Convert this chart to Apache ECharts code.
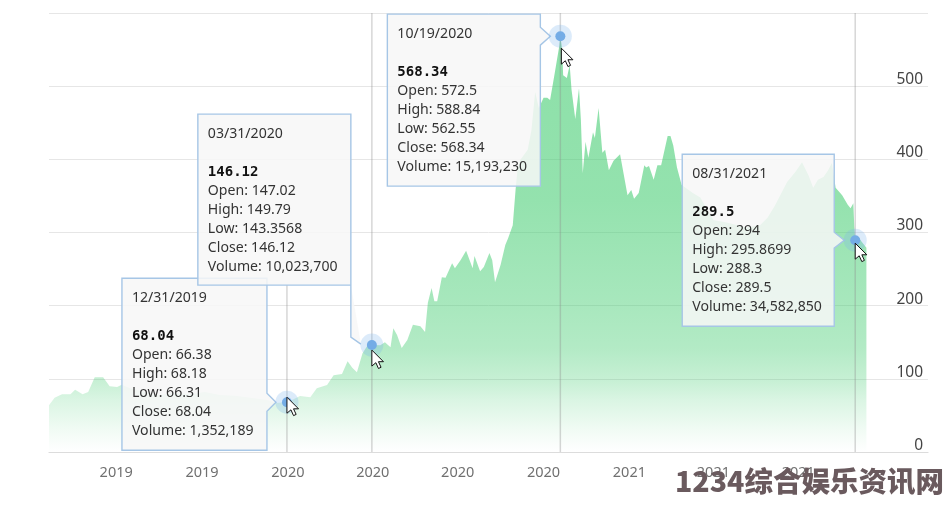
<!DOCTYPE html>
<html>
<head>
<meta charset="utf-8">
<style>html,body{margin:0;padding:0;background:#fff}#c{width:948px;height:507px}</style>
<script src="https://cdn.jsdelivr.net/npm/echarts@6/dist/echarts.min.js"></script>
</head>
<body>
<div id="c"></div>
<script>
// ---- data ----
const startDate = '2019-04-20';
const axisEndDay = 942;
// days since startDate of each outline vertex
const dayOffsets = [0,6,14,23,28,36,42,49,58,65,73,78,87,103,119,135,151,167,183,199,216,234,243,255,262,269,280,287,298,305,314,320,325,330,336,341,346,355,360,366,369,373,378,384,390,398,403,406,410,413,416,421,425,432,435,441,447,454,456,462,466,472,475,478,484,489,492,497,500,502,505,513,517,521,525,530,534,537,542,547,548,550,551,555,558,560,564,568,570,572,575,578,583,585,589,593,596,600,605,612,620,624,627,632,638,640,643,648,652,656,663,666,669,673,678,690,698,712,725,748,762,770,778,791,800,807,814,819,824,830,835,839,843,850,856,859,862,863,864,868,876];
const closes = [64,74,79,79,85,79,82,102,102,90,89,92,87,82,78,81,79,82,78,77,74,71,67,68.04,72,76.5,75,87,91.5,105,106.6,124,115,109,135,145,146.12,146,150,143,169,160,142,153,174,172,164,204,224,206,206,239,238,258,251,262,275,251,268,247,253,272,262,232,256,283,292,310,358,385,399,413,440,492,470,484,484,481,518,556,568.34,549,515,511,529,495,455,497,454,381,424,402,437,429,470,409,413,385,398,407,351,358,346,354,392,389,391,372,392,392,432,432,419,389,365,354,348,317,314,307,310,320,337,369,383,396,378,361,372,376,385,395,361,351,338,333,340,308,289.5,292,279];
const xTickDates = ['2019-07-01','2019-10-01','2020-01-01','2020-04-01','2020-07-01','2020-10-01','2021-01-01','2021-04-01','2021-07-01'];
const tipDates = ['12/31/2019','03/31/2020','10/19/2020','08/31/2021'];
const tipOpen = ['66.38','147.02','572.5','294'];
const tipHigh = ['68.18','149.79','588.84','295.8699'];
const tipLow = ['66.31','143.3568','562.55','288.3'];
const tipClose = [68.04,146.12,568.34,289.5];
const tipVolume = ['1,352,189','10,023,700','15,193,230','34,582,850'];
const watermark = '1234综合娱乐资讯网';

// ---- callout layout, in pixels relative to the hovered point ----
const callouts = [
  {l:-165,r:-20,t:-124,b:48,notch:9,tipX:-11,tipY:0,curX:0,curY:-5,lineTop:285},
  {l:-174,r:-21,t:-231,b:-60,tail:-8,tipX:-11,tipY:-1,curX:0,curY:5},
  {l:-173,r:-20,t:-22,b:150,notch:9,tipX:-10,tipY:0,curX:1,curY:12},
  {l:-173,r:-21,t:-86,b:86,notch:8,tipX:-11,tipY:0,curX:0,curY:3}
];
const TEXT_FONT = '"Noto Sans"';
const BORDER = '#a6c6e6';
const BOX_FILL = 'rgba(247,247,247,0.86)';

const DAY = 86400000;
const parts = startDate.split('-').map(Number);
const t0 = new Date(parts[0], parts[1]-1, parts[2]).getTime();
const toMs = d => t0 + d*DAY;
const localMs = s => { const p = s.split('-').map(Number); return new Date(p[0],p[1]-1,p[2]).getTime(); };
const tipMs = s => { const p = s.split('/').map(Number); return new Date(p[2],p[0]-1,p[1]).getTime(); };

const seriesData = dayOffsets.map((d,i)=>[toMs(d),closes[i]]);
const tipData = tipDates.map((d,i)=>[tipMs(d),tipClose[i],i]);

function renderTip(params, api){
  const i = api.value(2);
  const c = callouts[i];
  const p = api.coord([api.value(0),api.value(1)]);
  const top = api.coord([api.value(0),600])[1];
  const bot = api.coord([api.value(0),0])[1];
  const X = p[0], Y = p[1];
  const ch = [];
  ch.push({type:'line',shape:{x1:X,y1:c.lineTop||top,x2:X,y2:bot},style:{stroke:'rgba(140,140,140,0.36)',lineWidth:1.5}});
  const L=X+c.l,R=X+c.r,T=Y+c.t,B=Y+c.b,tx=X+c.tipX,ty=Y+c.tipY;
  if(c.notch){
    const poly=[[L,T],[R,T],[R,Y-c.notch],[tx,ty],[R,Y+c.notch],[R,B],[L,B]];
    ch.push({type:'polygon',shape:{points:poly},style:{fill:BOX_FILL,stroke:BORDER,lineWidth:1.4}});
  } else {
    ch.push({type:'polygon',shape:{points:[[L,T],[R,T],[R,Y+c.tail],[tx,ty],[R,B],[L,B]]},style:{fill:BOX_FILL}});
    ch.push({type:'polyline',shape:{points:[[R,B],[L,B],[L,T],[R,T],[R,Y+c.tail],[tx,ty]]},style:{fill:null,stroke:BORDER,lineWidth:1.4}});
  }
  const rows=[
    [tipDates[i],20,false],
    [String(tipClose[i]),58,true],
    ['Open: '+tipOpen[i],77,false],
    ['High: '+tipHigh[i],96,false],
    ['Low: '+tipLow[i],115,false],
    ['Close: '+tipClose[i],134,false],
    ['Volume: '+tipVolume[i],153,false]
  ];
  rows.forEach(r=>{
    ch.push({type:'text',style:{x:L+10,y:T+r[1],text:r[0],fill:r[2]?'#111':'#333',
      fontFamily:r[2]?'"DejaVu Sans Mono"':TEXT_FONT,fontSize:r[2]?14:14.1,fontWeight:r[2]?'bold':'normal',
      align:'left',verticalAlign:'middle'}});
  });
  ch.push({type:'circle',shape:{cx:X,cy:Y,r:11.5},style:{fill:'rgba(124,181,236,0.27)'}});
  ch.push({type:'circle',shape:{cx:X,cy:Y,r:5},style:{fill:'#74ace6'}});
  const cx=X+c.curX, cy=Y+c.curY;
  const cur=[[0,0],[0,16],[4,12.6],[6.6,18.4],[9.2,17.2],[6.6,11.6],[11.6,11.6]].map(q=>[cx+q[0],cy+q[1]]);
  ch.push({type:'polygon',shape:{points:cur},style:{fill:'#fff',stroke:'#111',lineWidth:1}});
  return {type:'group',children:ch};
}

const chart = echarts.init(document.getElementById('c'),null,{renderer:'canvas',width:948,height:507});
chart.setOption({
  animation:false,
  backgroundColor:'#fff',
  grid:{left:49,right:20,top:13,bottom:55,containLabel:false},
  xAxis:{
    type:'value',min:t0,max:toMs(axisEndDay),
    axisLine:{show:true,onZero:false,lineStyle:{color:'#dcdcdc',width:1.2}},
    axisTick:{show:false},
    splitLine:{show:false},
    axisLabel:{
      customValues:xTickDates.map(localMs),
      formatter:v=>String(new Date(v).getFullYear()),
      color:'#707070',fontFamily:TEXT_FONT,fontSize:14.5,margin:13,hideOverlap:false
    }
  },
  yAxis:{
    type:'value',position:'right',min:0,max:600,interval:100,
    axisLine:{show:false},axisTick:{show:false},
    splitLine:{show:true,lineStyle:{color:'#e6e6e6',width:1}},
    axisLabel:{inside:true,showMaxLabel:false,color:'#444',fontFamily:TEXT_FONT,fontSize:15.5,margin:5,
      align:'right',verticalAlign:'bottom',lineHeight:15,padding:[0,0,-1,0]}
  },
  series:[
    {type:'line',data:seriesData,showSymbol:false,symbol:'none',smooth:false,
      lineStyle:{width:0},
      areaStyle:{opacity:1,color:{type:'linear',x:0,y:0,x2:0,y2:1,colorStops:[
        {offset:0,color:'rgba(70,205,115,0.62)'},
        {offset:0.39,color:'rgba(70,205,115,0.58)'},
        {offset:0.63,color:'rgba(70,205,115,0.48)'},
        {offset:0.75,color:'rgba(70,205,115,0.41)'},
        {offset:0.83,color:'rgba(70,205,115,0.30)'},
        {offset:0.875,color:'rgba(70,205,115,0.20)'},
        {offset:0.95,color:'rgba(70,205,115,0.07)'},
        {offset:1,color:'rgba(70,205,115,0)'}
      ]}},z:2},
    {type:'custom',data:tipData,encode:{x:0,y:1},renderItem:renderTip,clip:false,z:5,silent:true}
  ],
  graphic:[{type:'text',z:100,left:675,top:467,style:{text:watermark,fill:'#6a5a5e',
    fontFamily:'"Noto Sans CJK SC"',fontSize:28.5,fontWeight:900}}]
});
</script>
</body>
</html>
